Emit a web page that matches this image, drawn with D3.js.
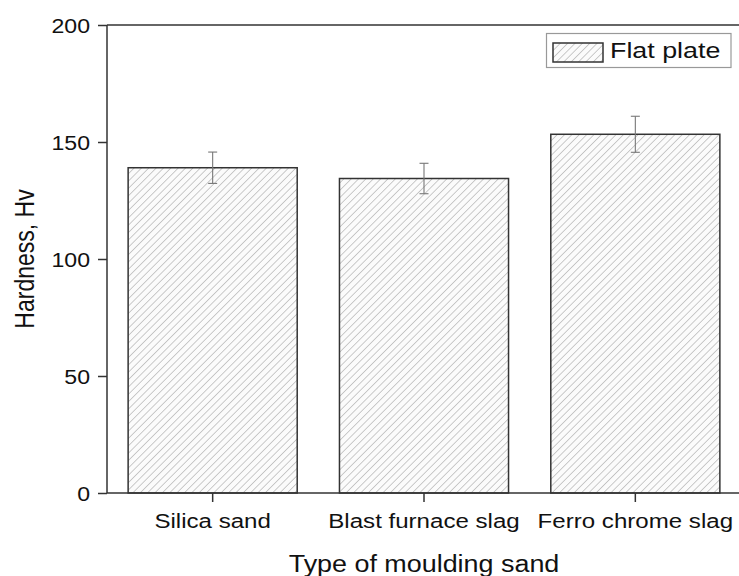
<!DOCTYPE html>
<html>
<head>
<meta charset="utf-8">
<script src="https://cdn.jsdelivr.net/npm/d3@7"></script>
<style>
  html, body { margin: 0; padding: 0; background: #fff; }
  svg { display: block; font-family: "Liberation Sans", Arial, sans-serif; }
</style>
</head>
<body>
<svg id="chart" width="739" height="576"></svg>
<script>
// Hardness of flat plate castings by moulding sand type
const categories = ["Silica sand", "Blast furnace slag", "Ferro chrome slag"];
const hardness = [139.0, 134.4, 153.3];
const hardnessErr = [6.7, 6.5, 7.7];
const yTicks = [0, 50, 100, 150, 200];
const seriesName = "Flat plate";

const svg = d3.select("#chart");
const margin = { left: 107, right: -2, top: 25, bottom: 83 };
const W = 739, H = 576;
const axisColor = "#333";
const textColor = "#111";
// text is drawn slightly wide
const stretch = 1.17;

const x = d3.scaleBand()
  .domain(categories)
  .range([margin.left, W - margin.right])
  .paddingInner(0.2)
  .paddingOuter(0.1);

const y = d3.scaleLinear()
  .domain([0, 200])
  .range([H - margin.bottom, margin.top]);

// diagonal hatch fill
const defs = svg.append("defs");
const pat = defs.append("pattern")
  .attr("id", "hatch")
  .attr("patternUnits", "userSpaceOnUse")
  .attr("width", 5.2).attr("height", 5.2)
  .attr("patternTransform", "rotate(45)");
pat.append("rect").attr("width", 5.2).attr("height", 5.2).attr("fill", "#fbfbfb");
pat.append("line")
  .attr("x1", 0).attr("y1", 0).attr("x2", 0).attr("y2", 5.2)
  .attr("stroke", "#999").attr("stroke-width", 1);

// bars
svg.append("g").selectAll("rect")
  .data(categories)
  .join("rect")
  .attr("x", d => x(d))
  .attr("y", (d, i) => y(hardness[i]))
  .attr("width", x.bandwidth())
  .attr("height", (d, i) => y(0) - y(hardness[i]))
  .attr("fill", "url(#hatch)")
  .attr("stroke", axisColor)
  .attr("stroke-width", 1.5);

// error bars
const eg = svg.append("g").attr("stroke", "#777").attr("stroke-width", 1.1);
categories.forEach((c, i) => {
  const cx = x(c) + x.bandwidth() / 2;
  const top = y(hardness[i] + hardnessErr[i]);
  const bot = y(hardness[i] - hardnessErr[i]);
  eg.append("line").attr("x1", cx).attr("x2", cx).attr("y1", top).attr("y2", bot);
  eg.append("line").attr("x1", cx - 4.5).attr("x2", cx + 4.5).attr("y1", top).attr("y2", top);
  eg.append("line").attr("x1", cx - 4.5).attr("x2", cx + 4.5).attr("y1", bot).attr("y2", bot);
});

// axes
const yAxis = svg.append("g")
  .attr("transform", `translate(${margin.left},0)`)
  .call(d3.axisLeft(y).tickValues(yTicks).tickSize(9).tickPadding(8).tickFormat(d3.format("d")));
const xAxis = svg.append("g")
  .attr("transform", `translate(0,${y(0)})`)
  .call(d3.axisBottom(x).tickSize(9).tickPadding(8));

[yAxis, xAxis].forEach(g => {
  g.select(".domain").attr("stroke", axisColor).attr("stroke-width", 1.5);
  g.selectAll(".tick line").attr("stroke", axisColor).attr("stroke-width", 1.5);
  g.selectAll(".tick text").attr("fill", textColor).style("font-family", "Liberation Sans, Arial, sans-serif");
});
yAxis.selectAll(".tick text")
  .style("font-size", "21px")
  .attr("x", -17 / 1.1)
  .attr("dy", "0.36em")
  .attr("transform", "scale(1.1,1)");
xAxis.selectAll(".tick text")
  .style("font-size", "20.6px")
  .attr("y", 35).attr("dy", 0)
  .attr("transform", `scale(${stretch},1)`)
  .attr("x", 0);
// keep bottom labels centred under their ticks after stretching
xAxis.selectAll(".tick").each(function () {
  d3.select(this).select("text").attr("transform", `scale(${stretch},1)`);
});
xAxis.select(".domain").attr("d", `M${margin.left},0H${W + 2}`);
yAxis.select(".domain").attr("d", `M0,${y(0)}V${y(200)}`);

// top frame line
svg.append("line")
  .attr("x1", margin.left).attr("x2", W + 2)
  .attr("y1", y(200)).attr("y2", y(200))
  .attr("stroke", axisColor).attr("stroke-width", 1.5);

// axis titles
svg.append("text")
  .attr("transform", `translate(${(margin.left + W + 2) / 2},571.5) scale(${stretch},1)`)
  .attr("text-anchor", "middle")
  .style("font-size", "23px").attr("fill", textColor)
  .text("Type of moulding sand");
svg.append("text")
  .attr("transform", `translate(33.5,${(y(0) + y(200)) / 2}) scale(1.2,1) rotate(-90)`)
  .attr("text-anchor", "middle")
  .style("font-size", "23px").attr("fill", textColor)
  .text("Hardness, Hv");

// legend
const lg = svg.append("g");
lg.append("rect")
  .attr("x", 546.5).attr("y", 33.5).attr("width", 184.5).attr("height", 34)
  .attr("fill", "#fff").attr("stroke", "#999").attr("stroke-width", 1.2);
lg.append("rect")
  .attr("x", 553).attr("y", 43).attr("width", 50).attr("height", 19)
  .attr("fill", "url(#hatch)").attr("stroke", axisColor).attr("stroke-width", 1.5);
lg.append("text")
  .attr("transform", "translate(610,58) scale(1.22,1)")
  .style("font-size", "22px").attr("fill", textColor)
  .text(seriesName);
</script>
</body>
</html>
